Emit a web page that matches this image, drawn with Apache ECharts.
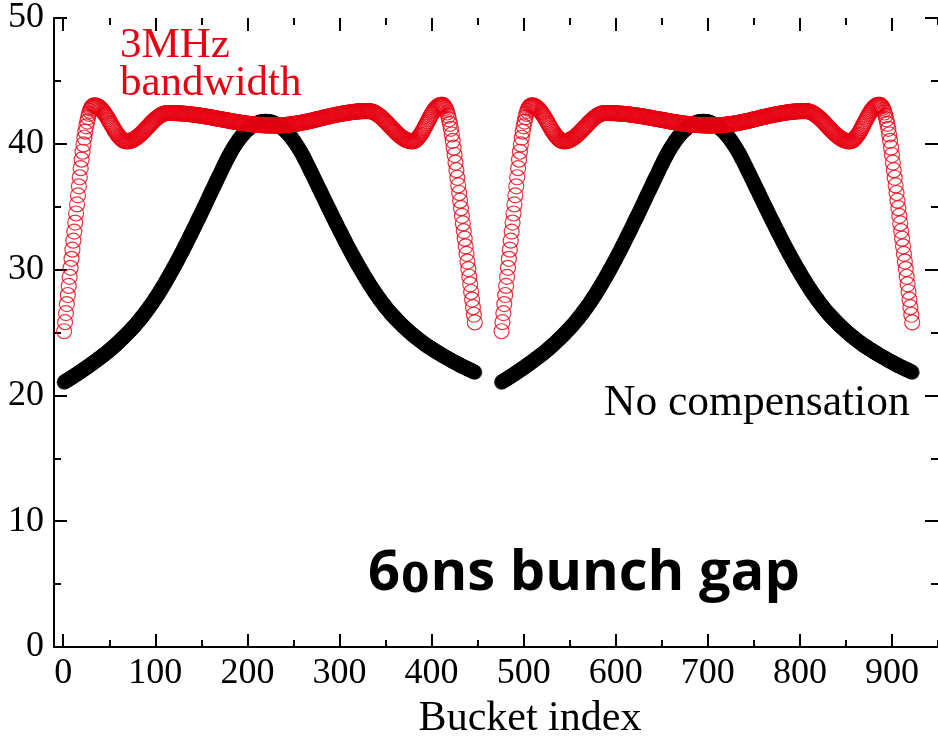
<!DOCTYPE html>
<html>
<head>
<meta charset="utf-8">
<script src="https://cdn.jsdelivr.net/npm/echarts@6/dist/echarts.min.js"></script>
<style>
  html, body { margin: 0; padding: 0; background: #ffffff; }
  #chart { width: 938px; height: 738px; }
</style>
</head>
<body>
<div id="chart"></div>
<script>
// First bucket of each bunch train (the two trains are separated by the gap)
const trainStarts = [1, 476];

// Beam phase along one train with 3 MHz bandwidth compensation (one value per bucket)
const compensated = [
  25.1, 25.82, 26.54, 27.26, 27.98, 28.7, 29.42, 30.14, 30.86, 31.58,
  32.3, 33.02, 33.74, 34.46, 35.18, 35.9, 36.62, 37.34, 38.06, 38.74,
  39.37, 39.95, 40.48, 40.96, 41.39, 41.77, 42.1, 42.38, 42.61, 42.79,
  42.92, 43.0, 43.04, 43.05, 43.04, 43.03, 43.0, 42.96, 42.91, 42.85,
  42.78, 42.7, 42.61, 42.51, 42.41, 42.3, 42.19, 42.07, 41.95, 41.82,
  41.69, 41.56, 41.44, 41.31, 41.18, 41.06, 40.95, 40.84, 40.74, 40.64,
  40.55, 40.47, 40.4, 40.34, 40.29, 40.25, 40.22, 40.21, 40.2, 40.2,
  40.21, 40.22, 40.24, 40.27, 40.3, 40.33, 40.37, 40.41, 40.46, 40.51,
  40.57, 40.63, 40.7, 40.76, 40.83, 40.9, 40.98, 41.05, 41.13, 41.21,
  41.29, 41.36, 41.44, 41.52, 41.6, 41.67, 41.75, 41.82, 41.89, 41.95,
  42.02, 42.07, 42.13, 42.18, 42.24, 42.28, 42.32, 42.35, 42.38, 42.41,
  42.43, 42.44, 42.45, 42.45, 42.45, 42.45, 42.45, 42.45, 42.44, 42.44,
  42.44, 42.44, 42.43, 42.43, 42.43, 42.42, 42.42, 42.41, 42.41, 42.4,
  42.4, 42.39, 42.39, 42.38, 42.37, 42.36, 42.36, 42.35, 42.34, 42.33,
  42.32, 42.31, 42.3, 42.29, 42.28, 42.27, 42.26, 42.25, 42.24, 42.23,
  42.22, 42.2, 42.19, 42.18, 42.17, 42.16, 42.14, 42.13, 42.12, 42.11,
  42.09, 42.08, 42.06, 42.05, 42.04, 42.02, 42.01, 41.99, 41.98, 41.97,
  41.96, 41.94, 41.93, 41.92, 41.9, 41.89, 41.88, 41.86, 41.85, 41.84,
  41.82, 41.81, 41.79, 41.78, 41.77, 41.76, 41.74, 41.73, 41.72, 41.71,
  41.7, 41.68, 41.67, 41.66, 41.65, 41.64, 41.63, 41.62, 41.61, 41.6,
  41.59, 41.58, 41.57, 41.56, 41.55, 41.54, 41.54, 41.53, 41.52, 41.51,
  41.51, 41.5, 41.5, 41.49, 41.49, 41.48, 41.48, 41.47, 41.47, 41.47,
  41.46, 41.46, 41.46, 41.46, 41.45, 41.45, 41.45, 41.45, 41.45, 41.45,
  41.45, 41.45, 41.46, 41.46, 41.46, 41.47, 41.47, 41.48, 41.48, 41.49,
  41.49, 41.5, 41.5, 41.51, 41.52, 41.53, 41.54, 41.55, 41.56, 41.57,
  41.58, 41.59, 41.6, 41.61, 41.62, 41.64, 41.65, 41.67, 41.68, 41.69,
  41.71, 41.72, 41.74, 41.75, 41.77, 41.78, 41.8, 41.81, 41.83, 41.85,
  41.87, 41.88, 41.9, 41.92, 41.94, 41.96, 41.97, 41.99, 42.01, 42.03,
  42.05, 42.06, 42.08, 42.1, 42.12, 42.13, 42.15, 42.16, 42.18, 42.2,
  42.22, 42.23, 42.25, 42.27, 42.28, 42.3, 42.31, 42.33, 42.34, 42.35,
  42.37, 42.38, 42.4, 42.41, 42.42, 42.43, 42.44, 42.46, 42.47, 42.48,
  42.49, 42.5, 42.51, 42.52, 42.53, 42.54, 42.54, 42.55, 42.56, 42.57,
  42.57, 42.58, 42.58, 42.59, 42.59, 42.59, 42.6, 42.6, 42.6, 42.6,
  42.6, 42.6, 42.59, 42.58, 42.56, 42.54, 42.51, 42.48, 42.44, 42.4,
  42.35, 42.3, 42.25, 42.19, 42.13, 42.07, 42.0, 41.93, 41.86, 41.79,
  41.71, 41.64, 41.56, 41.48, 41.4, 41.32, 41.24, 41.17, 41.09, 41.01,
  40.94, 40.87, 40.8, 40.73, 40.67, 40.61, 40.55, 40.5, 40.45, 40.4,
  40.36, 40.32, 40.29, 40.26, 40.24, 40.22, 40.21, 40.2, 40.2, 40.21,
  40.23, 40.27, 40.31, 40.38, 40.45, 40.54, 40.63, 40.73, 40.84, 40.96,
  41.09, 41.23, 41.37, 41.51, 41.65, 41.79, 41.93, 42.07, 42.21, 42.34,
  42.46, 42.57, 42.68, 42.77, 42.86, 42.93, 42.99, 43.04, 43.07, 43.09,
  43.1, 43.09, 43.05, 42.97, 42.85, 42.69, 42.49, 42.24, 41.94, 41.59,
  41.19, 40.74, 40.24, 39.69, 39.11, 38.51, 37.9, 37.3, 36.69, 36.09,
  35.48, 34.88, 34.27, 33.67, 33.06, 32.46, 31.85, 31.25, 30.64, 30.04,
  29.43, 28.83, 28.22, 27.62, 27.01, 26.41, 25.8
];

// Beam phase along one train without compensation (one value per bucket)
const uncompensated = [
  21.05, 21.1, 21.14, 21.19, 21.23, 21.28, 21.32, 21.37, 21.42, 21.47,
  21.51, 21.56, 21.61, 21.66, 21.7, 21.75, 21.8, 21.85, 21.9, 21.95,
  22.0, 22.05, 22.1, 22.15, 22.2, 22.25, 22.3, 22.36, 22.41, 22.46,
  22.51, 22.57, 22.62, 22.67, 22.72, 22.78, 22.83, 22.89, 22.94, 23.0,
  23.05, 23.11, 23.16, 23.22, 23.28, 23.33, 23.39, 23.45, 23.51, 23.57,
  23.64, 23.7, 23.76, 23.83, 23.89, 23.96, 24.02, 24.09, 24.16, 24.22,
  24.29, 24.36, 24.43, 24.5, 24.58, 24.65, 24.72, 24.8, 24.87, 24.95,
  25.02, 25.1, 25.18, 25.25, 25.33, 25.41, 25.49, 25.57, 25.66, 25.74,
  25.83, 25.91, 26.0, 26.09, 26.18, 26.27, 26.37, 26.46, 26.56, 26.66,
  26.75, 26.85, 26.96, 27.06, 27.16, 27.27, 27.37, 27.48, 27.59, 27.7,
  27.81, 27.92, 28.04, 28.15, 28.27, 28.39, 28.51, 28.63, 28.75, 28.87,
  29.0, 29.13, 29.25, 29.38, 29.51, 29.64, 29.77, 29.9, 30.03, 30.16,
  30.3, 30.43, 30.57, 30.7, 30.84, 30.98, 31.12, 31.26, 31.4, 31.54,
  31.68, 31.83, 31.97, 32.12, 32.27, 32.41, 32.56, 32.71, 32.85, 33.0,
  33.15, 33.3, 33.45, 33.6, 33.75, 33.9, 34.05, 34.2, 34.35, 34.5,
  34.66, 34.81, 34.97, 35.12, 35.27, 35.43, 35.58, 35.73, 35.89, 36.04,
  36.2, 36.35, 36.51, 36.66, 36.82, 36.97, 37.13, 37.28, 37.43, 37.58,
  37.73, 37.89, 38.04, 38.19, 38.34, 38.49, 38.64, 38.78, 38.92, 39.06,
  39.2, 39.33, 39.46, 39.58, 39.7, 39.82, 39.93, 40.04, 40.15, 40.26,
  40.36, 40.45, 40.55, 40.64, 40.72, 40.81, 40.89, 40.97, 41.04, 41.11,
  41.17, 41.24, 41.3, 41.35, 41.41, 41.46, 41.5, 41.54, 41.58, 41.62,
  41.65, 41.68, 41.71, 41.73, 41.75, 41.76, 41.77, 41.78, 41.79, 41.79,
  41.79, 41.78, 41.77, 41.76, 41.75, 41.73, 41.71, 41.68, 41.65, 41.62,
  41.58, 41.54, 41.5, 41.46, 41.42, 41.36, 41.31, 41.25, 41.18, 41.12,
  41.05, 40.98, 40.9, 40.82, 40.73, 40.66, 40.57, 40.47, 40.38, 40.28,
  40.17, 40.06, 39.95, 39.85, 39.73, 39.61, 39.49, 39.36, 39.23, 39.1,
  38.96, 38.82, 38.68, 38.53, 38.39, 38.24, 38.09, 37.94, 37.78, 37.64,
  37.49, 37.34, 37.19, 37.04, 36.89, 36.73, 36.58, 36.43, 36.28, 36.12,
  35.97, 35.82, 35.67, 35.52, 35.36, 35.22, 35.07, 34.91, 34.77, 34.61,
  34.46, 34.32, 34.17, 34.02, 33.88, 33.73, 33.58, 33.44, 33.29, 33.14,
  33.0, 32.86, 32.71, 32.57, 32.43, 32.29, 32.14, 32.0, 31.86, 31.72,
  31.59, 31.45, 31.31, 31.18, 31.04, 30.91, 30.78, 30.64, 30.52, 30.38,
  30.26, 30.13, 30.01, 29.88, 29.76, 29.63, 29.51, 29.39, 29.27, 29.14,
  29.03, 28.91, 28.8, 28.68, 28.57, 28.45, 28.35, 28.23, 28.13, 28.02,
  27.92, 27.81, 27.71, 27.61, 27.51, 27.41, 27.32, 27.22, 27.12, 27.04,
  26.94, 26.85, 26.77, 26.67, 26.59, 26.5, 26.42, 26.34, 26.26, 26.18,
  26.1, 26.02, 25.95, 25.87, 25.8, 25.73, 25.66, 25.59, 25.52, 25.45,
  25.38, 25.32, 25.24, 25.18, 25.12, 25.04, 24.98, 24.92, 24.85, 24.79,
  24.74, 24.68, 24.61, 24.56, 24.5, 24.45, 24.38, 24.33, 24.28, 24.22,
  24.16, 24.11, 24.06, 24.01, 23.96, 23.91, 23.86, 23.82, 23.77, 23.72,
  23.67, 23.63, 23.58, 23.54, 23.48, 23.44, 23.4, 23.36, 23.31, 23.27,
  23.22, 23.18, 23.13, 23.09, 23.05, 23.01, 22.97, 22.93, 22.88, 22.84,
  22.8, 22.76, 22.72, 22.68, 22.64, 22.61, 22.57, 22.53, 22.49, 22.45,
  22.41, 22.37, 22.33, 22.3, 22.26, 22.23, 22.19, 22.16, 22.12, 22.09,
  22.05, 22.02, 21.98, 21.95, 21.91, 21.88, 21.84
];

// Axis ticks
const xMajorTicks = [0, 100, 200, 300, 400, 500, 600, 700, 800, 900];
const xMinorTicks = [50, 150, 250, 350, 450, 550, 650, 750, 850, 950];
const xRange = [-10, 950];
const yRange = [0, 50];
const yStep = 10;

// Text drawn on the plot
const xTitle = 'Bucket index';
const redLabelLines = ['3MHz', 'bandwidth'];
const blackLabel = 'No compensation';

const SERIF = '"Liberation Serif", "Times New Roman", serif';
const RED = '#e60012';

function trainPoints(profile) {
  const pts = [];
  trainStarts.forEach(function (start) {
    profile.forEach(function (v, i) { pts.push([start + i, v]); });
  });
  return pts;
}

function xAxisDef(position, ticks, len, withLine, withLabels) {
  return {
    type: 'value', position: position, min: xRange[0], max: xRange[1],
    axisLine: { show: withLine, onZero: false, lineStyle: { color: '#000', width: 2 } },
    axisTick: { show: true, inside: true, length: len, customValues: ticks,
                lineStyle: { color: '#000', width: 2 } },
    axisLabel: withLabels ? {
      show: true, customValues: ticks, margin: 9, color: '#000',
      fontFamily: SERIF, fontSize: 36
    } : { show: false },
    splitLine: { show: false }
  };
}

function yAxisDef(position, withLine, withLabels) {
  return {
    type: 'value', position: position, min: yRange[0], max: yRange[1], interval: yStep,
    axisLine: { show: withLine, onZero: false, lineStyle: { color: '#000', width: 2 } },
    axisTick: { show: true, inside: true, length: 13, lineStyle: { color: '#000', width: 2 } },
    minorTick: { show: true, splitNumber: 2, length: 7, lineStyle: { color: '#000', width: 2 } },
    axisLabel: withLabels ? {
      show: true, margin: 10, color: '#000', fontFamily: SERIF, fontSize: 36
    } : { show: false },
    splitLine: { show: false },
    minorSplitLine: { show: false }
  };
}

const chart = echarts.init(document.getElementById('chart'), null, { renderer: 'canvas' });

chart.setOption({
  animation: false,
  backgroundColor: '#ffffff',
  grid: { left: 54, top: 17, width: 887, height: 630, containLabel: false },
  xAxis: [
    xAxisDef('bottom', xMajorTicks, 13, true, true),
    xAxisDef('bottom', xMinorTicks, 7, false, false),
    xAxisDef('top', xMajorTicks, 13, false, false),
    xAxisDef('top', xMinorTicks, 7, false, false)
  ],
  yAxis: [
    yAxisDef('left', true, true),
    yAxisDef('right', false, false)
  ],
  series: [
    {
      name: blackLabel, type: 'scatter', xAxisIndex: 0, yAxisIndex: 0,
      data: trainPoints(uncompensated),
      symbol: 'circle', symbolSize: 15, silent: true,
      itemStyle: { color: '#000000' }
    },
    {
      name: redLabelLines.join(' '), type: 'scatter', xAxisIndex: 0, yAxisIndex: 0,
      data: trainPoints(compensated),
      symbol: 'circle', symbolSize: 15, silent: true,
      itemStyle: { color: 'rgba(0,0,0,0)', borderColor: RED, borderWidth: 1.2 }
    }
  ],
  graphic: [
    { type: 'text', x: 120, y: 46, style: {
        text: redLabelLines[0], fill: RED, font: '43px ' + SERIF,
        textAlign: 'left', textVerticalAlign: 'middle' } },
    { type: 'text', x: 120, y: 84, style: {
        text: redLabelLines[1], fill: RED, font: '43px ' + SERIF,
        textAlign: 'left', textVerticalAlign: 'middle' } },
    { type: 'text', x: 604, y: 404, style: {
        text: blackLabel, fill: '#000', font: '43.5px ' + SERIF,
        textAlign: 'left', textVerticalAlign: 'middle' } },
    { type: 'text', x: 530, y: 719, style: {
        text: xTitle, fill: '#000', font: '42px ' + SERIF,
        textAlign: 'center', textVerticalAlign: 'middle' } },
    // old-style zero: a smaller digit sitting on the baseline at x-height
    { type: 'text', x: 368, y: 574, style: {
        text: '{d|6}{z|0}{d|ns bunch gap}', fill: '#000',
        textAlign: 'left', textVerticalAlign: 'middle',
        rich: {
          d: { fontFamily: '"Open Sans"', fontWeight: 'bold', fontSize: 56, fill: '#000' },
          z: { fontFamily: '"DejaVu Sans"', fontWeight: 'bold', fontSize: 41, fill: '#000',
               padding: [14, 1, 0, 1] }
        } } }
  ]
});
</script>
</body>
</html>
